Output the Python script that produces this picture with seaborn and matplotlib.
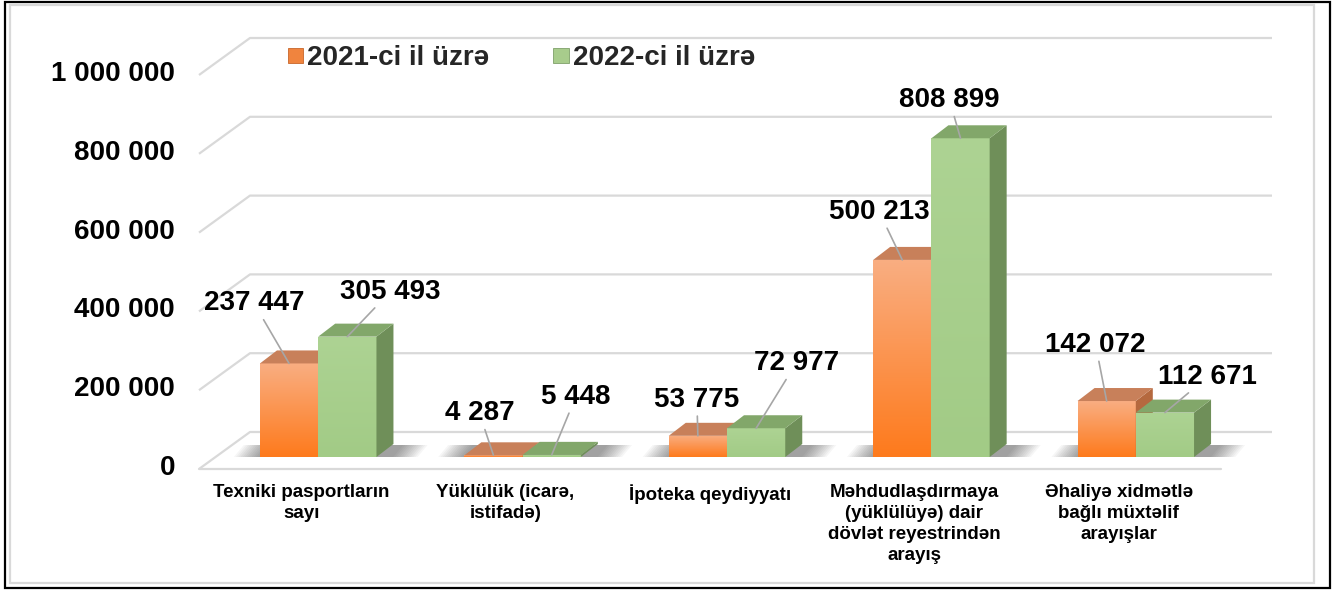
import numpy as np
import pandas as pd
import matplotlib
matplotlib.use("Agg")
import matplotlib.pyplot as plt
import seaborn as sns
from matplotlib.patches import Polygon, Rectangle, Patch
from matplotlib.transforms import ScaledTranslation
from matplotlib.colors import LinearSegmentedColormap

# ---- data ----
categories = [
    "Texniki pasportların\nsayı",
    "Yüklülük (icarə,\nistifadə)",
    "İpoteka qeydiyyatı",
    "Məhdudlaşdırmaya\n(yüklülüyə) dair\ndövlət reyestrindən\narayış",
    "Əhaliyə xidmətlə\nbağlı müxtəlif\narayışlar",
]
years = ["2021-ci il üzrə", "2022-ci il üzrə"]
values_2021 = [237447, 4287, 53775, 500213, 142072]
values_2022 = [305493, 5448, 72977, 808899, 112671]
y_ticks = [0, 200000, 400000, 600000, 800000, 1000000]
y_tick_labels = ["0", "200 000", "400 000", "600 000", "800 000", "1 000 000"]

# label placement (pixels, relative to the bar's front-top centre)
label_offsets = {
    0: [(-35, 60), (-14, 42), (-1, 36), (-23, 48), (-11, 56)],
    1: [(43, 45), (24, 58), (40, 65), (-11, 38), (43, 36)],
}

# colours
front_cols = {0: ("#fe7a1c", "#f9ae82"), 1: ("#a2cb86", "#add393")}
top_cols = {0: "#c8805a", 1: "#82a76a"}
side_cols = {0: "#b5693f", 1: "#6f8f59"}
grid_col = "#d9d9d9"

sns.set_theme(style="white")
plt.rcParams["font.family"] = ["Liberation Sans", "DejaVu Sans"]

W, H, DPI = 1344, 590, 100
fig = plt.figure(figsize=(W / DPI, H / DPI), dpi=DPI)
ax = fig.add_axes([216 / W, (H - 457) / H, 1022 / W, 394 / H])

df = pd.DataFrame({
    "cat": categories * 2,
    "year": [years[0]] * len(categories) + [years[1]] * len(categories),
    "value": values_2021 + values_2022,
})
sns.barplot(data=df, x="cat", y="value", hue="year",
            palette=[front_cols[0][0], front_cols[1][0]],
            width=0.57, saturation=1, legend=False, errorbar=None,
            linewidth=0, ax=ax)
ax.set_xlim(-0.5, 4.5)
ax.set_ylim(0, 1e6)
ax.axis("off")

# pixel -> data conversion (linear axes)
fx = 5.0 / 1022
fy = 1e6 / 394


def pt(x, y, dx=0, dy=0):
    return (x + dx * fx, y + dy * fy)


def shift(dx, dy):
    return ax.transData + ScaledTranslation(dx / DPI, dy / DPI, fig.dpi_scale_trans)


FRONT = (-17, -12)
BACK = (34, 25)
DEPTH = (17, 13)

# walls / grid
for v in y_ticks:
    line = [pt(-0.5, v, *FRONT), pt(-0.5, v, *BACK), pt(4.5, v, *BACK)]
    xs, ys = zip(*line)
    ax.plot(xs, ys, color=grid_col, lw=1.6, clip_on=False, zorder=0.5,
            solid_capstyle="butt")
xs, ys = zip(pt(-0.5, 0, *FRONT), pt(4.5, 0, *FRONT))
ax.plot(xs, ys, color=grid_col, lw=1.6, clip_on=False, zorder=0.5)

# 3D faces for bars
bars = sorted(ax.patches, key=lambda b: b.get_x())
grad = np.linspace(0, 1, 256).reshape(-1, 1)
pairs = {}
for b in bars:
    x0, w, h = b.get_x(), b.get_width(), b.get_height()
    x1 = x0 + w
    c = x0 + w / 2
    cat = int(round(c))
    hue = 0 if c < cat else 1
    pairs.setdefault(cat, []).append((hue, x0, x1, h))
    z = 2 + hue
    b.set_zorder(z)
    b.set_clip_on(False)
    cmap = LinearSegmentedColormap.from_list("g%d" % hue, list(front_cols[hue]))
    im = ax.imshow(grad, extent=(x0, x1, 0, h), origin="lower", aspect="auto",
                   cmap=cmap, zorder=z + 0.01)
    im.set_clip_path(b)
    side = [(x1, 0), (x1, h), pt(x1, h, *DEPTH), pt(x1, 0, *DEPTH)]
    top = [(x0, h), (x1, h), pt(x1, h, *DEPTH), pt(x0, h, *DEPTH)]
    ax.add_patch(Polygon(side, closed=True, fc=side_cols[hue], ec="none",
                         zorder=z + 0.02, clip_on=False))
    ax.add_patch(Polygon(top, closed=True, fc=top_cols[hue], ec="none",
                         zorder=z + 0.03, clip_on=False))

ax.set_xlim(-0.5, 4.5)
ax.set_ylim(0, 1e6)

# soft floor shadows
for cat, items in pairs.items():
    L = min(i[1] for i in items)
    R = max(i[2] for i in items)
    for k in range(12):
        e = 2.2 * k
        poly = [pt(L, 0, -e - 2, 0), pt(R, 0, 17 + e, 0),
                pt(R, 0, 17 + 10 + e, 12), pt(L, 0, 10 - e - 2, 12)]
        ax.add_patch(Polygon(poly, closed=True, fc="black", ec="none",
                             alpha=0.035, zorder=1, clip_on=False))

# value labels with leader lines
for hue, vals in enumerate([values_2021, values_2022]):
    for i, v in enumerate(vals):
        item = [p for p in pairs[i] if p[0] == hue][0]
        cx = (item[1] + item[2]) / 2
        dx, dy = label_offsets[hue][i]
        ax.annotate(f"{v:,}".replace(",", " "), xy=(cx, v), xytext=(dx, dy),
                    textcoords="offset pixels", ha="center", va="center",
                    fontsize=20, fontweight="bold", color="black", zorder=6,
                    annotation_clip=False,
                    arrowprops=dict(arrowstyle="-", color="#a6a6a6", lw=1.2,
                                    shrinkA=0, shrinkB=0))

# y tick labels on the front plane
for v, lbl in zip(y_ticks, y_tick_labels):
    ax.text(-0.5, v, lbl, transform=shift(FRONT[0] - 24, FRONT[1] + 1),
            ha="right", va="center", fontsize=20, fontweight="bold",
            color="black", clip_on=False)

# category labels
for i, cat in enumerate(categories):
    ax.text(i, 0, cat, transform=shift(FRONT[0], -27), ha="center", va="top",
            fontsize=13.5, fontweight="bold", linespacing=1.3,
            multialignment="center", color="black", clip_on=False)

# legend
handles = [Patch(facecolor="#f0843e", edgecolor="#c8652a", lw=0.6),
           Patch(facecolor="#a8cc8c", edgecolor="#7fa06a", lw=0.6)]
fig.legend(handles, years, loc="center left",
           bbox_to_anchor=(288 / W, 1 - 58 / H), frameon=False, ncol=2,
           prop=dict(weight="bold", size=20), handlelength=0.55,
           handleheight=0.45, handletextpad=0.15, columnspacing=2.3,
           borderpad=0, borderaxespad=0)

# chart borders
fig.add_artist(Rectangle((10 / W, 7 / H), 1304 / W, 578 / H,
                         transform=fig.transFigure, fill=False,
                         ec="#d9d9d9", lw=1.6))
fig.add_artist(Rectangle((5 / W, 2 / H), 1325 / W, 586 / H,
                         transform=fig.transFigure, fill=False,
                         ec="black", lw=1.6))

fig.savefig("out.png", dpi=DPI)
